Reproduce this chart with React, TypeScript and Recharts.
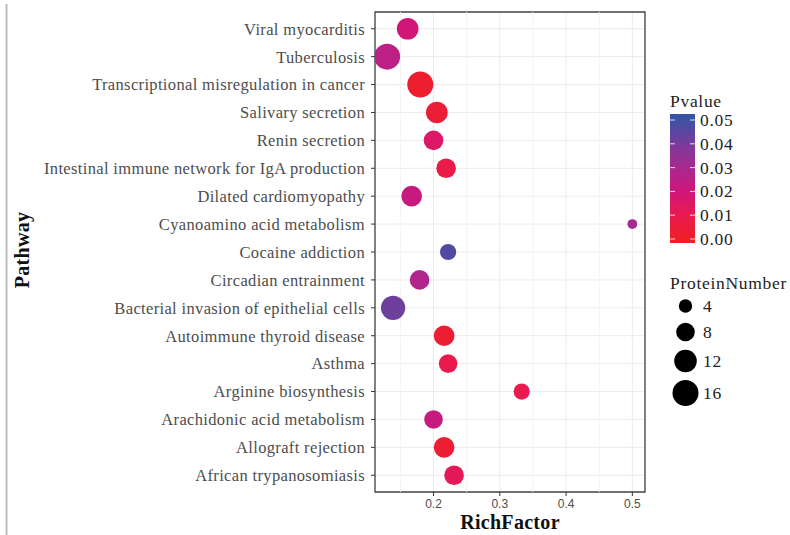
import React from "react";
import {
  ScatterChart,
  Scatter,
  XAxis,
  YAxis,
  ZAxis,
  CartesianGrid,
  ReferenceLine,
  ReferenceArea,
  Cell,
} from "recharts";

// rows from top to bottom
const pathways = [
  "Viral myocarditis",
  "Tuberculosis",
  "Transcriptional misregulation in cancer",
  "Salivary secretion",
  "Renin secretion",
  "Intestinal immune network for IgA production",
  "Dilated cardiomyopathy",
  "Cyanoamino acid metabolism",
  "Cocaine addiction",
  "Circadian entrainment",
  "Bacterial invasion of epithelial cells",
  "Autoimmune thyroid disease",
  "Asthma",
  "Arginine biosynthesis",
  "Arachidonic acid metabolism",
  "Allograft rejection",
  "African trypanosomiasis",
];
const richFactor = [0.161, 0.13, 0.18, 0.205, 0.2, 0.219, 0.167, 0.5, 0.222, 0.179, 0.139, 0.216, 0.222, 0.333, 0.2, 0.216, 0.231];
const pValue = [0.019, 0.025, 0.002, 0.004, 0.015, 0.008, 0.022, 0.031, 0.047, 0.028, 0.042, 0.003, 0.009, 0.01, 0.022, 0.003, 0.012];
const proteinNumber = [11, 16, 16, 11, 9, 9, 10, 2, 6, 9, 14, 10, 8, 6, 8, 10, 9];

const xTicks = [0.2, 0.3, 0.4, 0.5];
const xMinor = [0.15, 0.25, 0.35, 0.45];
const pTicks = [0.05, 0.04, 0.03, 0.02, 0.01, 0.0];
const sizeTicks = [4, 8, 12, 16];

const X_DOMAIN = [0.1117, 0.5191];
const Y_DOMAIN = [-0.6, pathways.length - 0.4];
const SIZE_DOMAIN = [0, 16];
const SIZE_RANGE = [11, 531]; // area in px^2

// colour ramp red -> magenta -> blue
const stops: [number, string][] = [
  [0.0, "#ee1f26"],
  [0.01, "#ea1a50"],
  [0.02, "#cf167b"],
  [0.03, "#a8298f"],
  [0.04, "#7a3b9c"],
  [0.05, "#3b52a3"],
];

function hex(c: string) {
  return [1, 3, 5].map((i) => parseInt(c.slice(i, i + 2), 16));
}

function pColor(p: number) {
  for (let i = 0; i < stops.length - 1; i++) {
    const [p0, c0] = stops[i];
    const [p1, c1] = stops[i + 1];
    if (p <= p1 || i === stops.length - 2) {
      const t = Math.max(0, Math.min(1, (p - p0) / (p1 - p0)));
      const a = hex(c0);
      const b = hex(c1);
      const m = a.map((v, k) => Math.round(v + (b[k] - v) * t));
      return `rgb(${m[0]},${m[1]},${m[2]})`;
    }
  }
  return stops[0][1];
}

function radius(n: number) {
  const area =
    SIZE_RANGE[0] +
    ((n - SIZE_DOMAIN[0]) / (SIZE_DOMAIN[1] - SIZE_DOMAIN[0])) * (SIZE_RANGE[1] - SIZE_RANGE[0]);
  return Math.sqrt(area / Math.PI);
}

const data = pathways.map((name, i) => ({
  name,
  row: i,
  rich: richFactor[i],
  p: pValue[i],
  protein: proteinNumber[i],
}));

const serif = "'Liberation Serif', 'DejaVu Serif', serif";
const sans = "'Liberation Sans', Arial, sans-serif";
const legendText = { fontFamily: serif, fontSize: 17.5, letterSpacing: 0.7, fill: "#222" };
const titleText = { fontFamily: serif, fontWeight: "bold", fontSize: 20, letterSpacing: 0.3, fill: "#111" };

function Legend() {
  const barTop = 114;
  const barBottom = 243;
  const pTop = 120;
  const pBottom = 239;
  const py = (p: number) => pBottom - (p / 0.05) * (pBottom - pTop);
  const keyY = [306, 332, 361, 393];
  return (
    <svg width={790} height={535} style={{ position: "absolute", left: 0, top: 0, pointerEvents: "none" }}>
      <defs>
        <linearGradient id="pgrad" x1="0" y1="1" x2="0" y2="0">
          {stops.map(([p, c]) => (
            <stop key={p} offset={`${((py(p) - barBottom) / (barTop - barBottom)) * 100}%`} stopColor={c} />
          ))}
        </linearGradient>
      </defs>
      <line x1={6.5} y1={4} x2={6.5} y2={535} stroke="#bdbdbd" strokeWidth={2} />
      <text x={510} y={529} textAnchor="middle" style={titleText}>
        RichFactor
      </text>
      <text x={0} y={0} transform="translate(29,250) rotate(-90)" textAnchor="middle" style={titleText}>
        Pathway
      </text>
      <text x={670} y={107} style={legendText}>
        Pvalue
      </text>
      <rect x={670} y={barTop} width={25} height={barBottom - barTop} fill="url(#pgrad)" />
      {pTicks.map((p) => (
        <g key={p}>
          <line x1={670} x2={675} y1={py(p)} y2={py(p)} stroke="#fff" strokeWidth={0.8} />
          <line x1={690} x2={695} y1={py(p)} y2={py(p)} stroke="#fff" strokeWidth={0.8} />
          <text x={700} y={py(p) + 6} style={legendText}>
            {p.toFixed(2)}
          </text>
        </g>
      ))}
      <text x={670} y={289} style={legendText}>
        ProteinNumber
      </text>
      {sizeTicks.map((n, i) => (
        <g key={n}>
          <circle cx={685.5} cy={keyY[i]} r={radius(n)} fill="#000" />
          <text x={703} y={keyY[i] + 6} style={legendText}>
            {n}
          </text>
        </g>
      ))}
    </svg>
  );
}

export default function App() {
  return (
    <div style={{ position: "absolute", left: 0, top: 0, width: 790, height: 535, background: "#fff" }}>
      <ScatterChart width={790} height={535} margin={{ top: 12, right: 145, bottom: 0, left: 0 }}>
        <CartesianGrid stroke="#ebebeb" strokeWidth={1} />
        {xMinor.map((x) => (
          <ReferenceLine key={x} x={x} stroke="#f4f4f4" strokeWidth={1} />
        ))}
        <XAxis
          type="number"
          dataKey="rich"
          domain={X_DOMAIN}
          allowDataOverflow
          ticks={xTicks}
          tickFormatter={(v: number) => String(v)}
          axisLine={false}
          tickSize={4}
          tickMargin={3}
          tickLine={{ stroke: "#333" }}
          tick={{ fill: "#4d4d4d", fontSize: 12, fontFamily: sans }}
          height={43}
        />
        <YAxis
          type="number"
          dataKey="row"
          domain={Y_DOMAIN}
          reversed
          allowDataOverflow
          ticks={pathways.map((_, i) => i)}
          interval={0}
          tickFormatter={(v: number) => pathways[v] ?? ""}
          axisLine={false}
          tickSize={4}
          tickMargin={6}
          tickLine={{ stroke: "#333" }}
          tick={{ fill: "#4d4d4d", fontSize: 16.5, fontFamily: serif, letterSpacing: 0.35 }}
          width={375}
        />
        <ZAxis type="number" dataKey="protein" domain={SIZE_DOMAIN} range={SIZE_RANGE} />
        <ReferenceArea
          x1={X_DOMAIN[0]}
          x2={X_DOMAIN[1]}
          y1={Y_DOMAIN[0]}
          y2={Y_DOMAIN[1]}
          fill="none"
          stroke="#444"
          strokeWidth={1.3}
          ifOverflow="visible"
        />
        <Scatter data={data} isAnimationActive={false}>
          {data.map((d) => (
            <Cell key={d.name} fill={pColor(d.p)} />
          ))}
        </Scatter>
      </ScatterChart>
      <Legend />
    </div>
  );
}
